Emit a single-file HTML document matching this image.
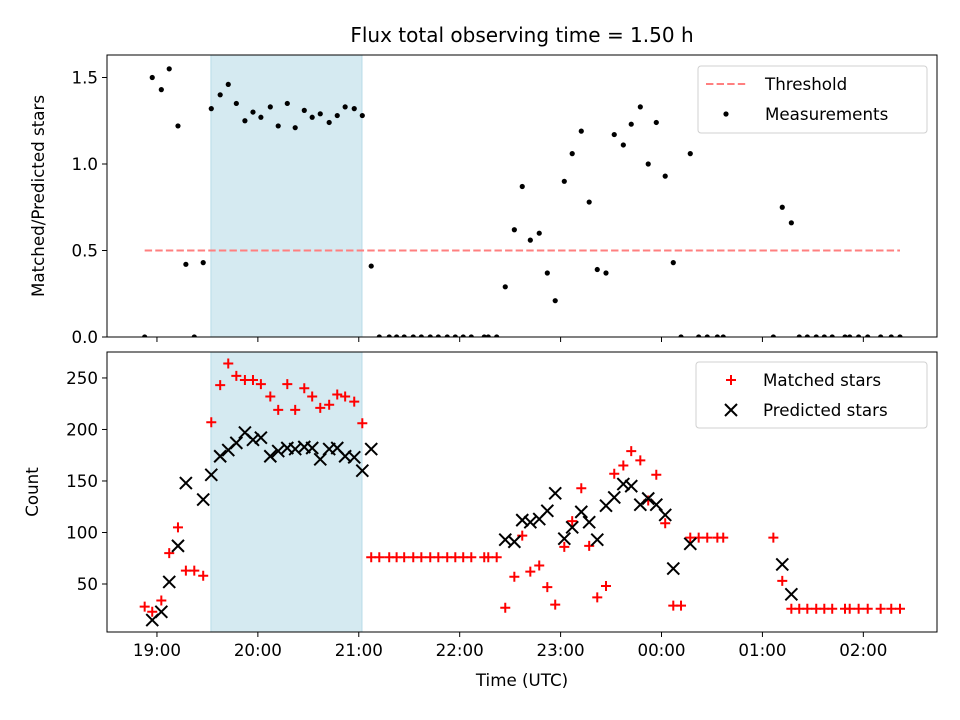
<!DOCTYPE html>
<html><head><meta charset="utf-8"><title>Flux observing time</title>
<style>
html,body{margin:0;padding:0;background:#fff;}
svg{display:block;font-family:"DejaVu Sans","Liberation Sans",sans-serif;}
</style></head>
<body>
<svg id="chart" width="960" height="720" viewBox="0 0 960 720" xmlns="http://www.w3.org/2000/svg">
<rect x="0" y="0" width="960" height="720" fill="#fff"/>
<text x="522" y="42" font-size="20" text-anchor="middle" fill="#000">Flux total observing time = 1.50 h</text>
<g id="top"></g>
<g id="bot"></g>
<text transform="translate(44,196) rotate(-90)" font-size="16.7" text-anchor="middle">Matched/Predicted stars</text>
<text transform="translate(38,492) rotate(-90)" font-size="16.7" text-anchor="middle">Count</text>
<text x="522" y="686" font-size="16.7" text-anchor="middle">Time (UTC)</text>
</svg>
<script>
// minutes relative to 19:00 UTC
const times = [-7.3,-2.8,2.6,7.3,12.5,17.2,22.2,27.5,32.3,37.6,42.4,47.2,52.3,57.1,61.8,67.4,72.1,77.5,82.2,87.6,92.3,97.1,102.4,107.2,111.9,117.3,122.1,127.4,
132.2,138.1,142.5,147.0,152.4,157.2,162.5,167.3,172.6,177.4,182.1,186.9,194.6,197.0,202.0,
207.1,212.5,217.2,222.0,227.3,232.1,236.8,242.2,246.9,252.3,257.0,261.8,267.0,271.9,277.3,282.0,287.4,292.1,296.9,302.2,307.0,311.6,317.1,322.1,327.2,333.2,336.7,
366.5,371.8,377.2,381.9,386.7,392.0,396.8,401.5,409.1,411.9,417.2,422.6,430.3,436.6,441.8];
const ratio = [0,1.50,1.43,1.55,1.22,0.42,0,0.43,1.32,1.40,1.46,1.35,1.25,1.30,1.27,1.33,1.22,1.35,1.21,1.31,1.27,1.29,1.24,1.28,1.33,1.32,1.28,0.41,
0,0,0,0,0,0,0,0,0,0,0,0,0,0,0,
0.29,0.62,0.87,0.56,0.60,0.37,0.21,0.90,1.06,1.19,0.78,0.39,0.37,1.17,1.11,1.23,1.33,1.00,1.24,0.93,0.43,0,1.06,0,0,0,0,
0,0.75,0.66,0,0,0,0,0,0,0,0,0,0,0,0];
const matched = [28,23,34,80,105,63,63,58,207,243,264,252,248,248,244,232,219,244,219,240,232,221,224,234,232,227,206,76,
76,76,76,76,76,76,76,76,76,76,76,76,76,76,76,
27,57,97,62,68,47,30,86,111,143,87,37,48,157,165,179,170,131,156,109,29,29,95,95,95,95,95,
95,53,26,26,26,26,26,26,26,26,26,26,26,26,26,26];
const predicted = [0,15,23,52,87,148,0,132,156,174,180,187,197,190,192,174,179,182,181,183,182,171,181,182,174,173,160,181,
0,0,0,0,0,0,0,0,0,0,0,0,0,0,0,
93,91,112,110,113,121,138,94,105,120,110,93,126,134,147,145,127,133,127,117,65,0,89,0,0,0,0,
0,69,40,0,0,0,0,0,0,0,0,0,0,0,0];
const threshold = 0.5;
const spanStart = 32.1, spanEnd = 121.9;
const xTickLabels = ["19:00","20:00","21:00","22:00","23:00","00:00","01:00","02:00"];
const xTickVals = [0,60,120,180,240,300,360,420];
const ratioTicks = [0,0.5,1.0,1.5];
const countTicks = [50,100,150,200,250];

const NS="http://www.w3.org/2000/svg";
const L=107,R=937;
const xMin=-29.7,xMax=463.8;
const X=t=>L+(t-xMin)/(xMax-xMin)*(R-L);
const T1=55,B1=337,yr=[0,1.63];
const Y1=v=>B1-(v-yr[0])/(yr[1]-yr[0])*(B1-T1);
const T2=352,B2=632,yc=[3.4,275.2];
const Y2=v=>B2-(v-yc[0])/(yc[1]-yc[0])*(B2-T2);
function mk(p,tag,a){const e=document.createElementNS(NS,tag);for(const k in a)e.setAttribute(k,a[k]);p.appendChild(e);return e;}

const svg=document.getElementById('chart');
const defs=mk(svg,'defs',{});
const c1=mk(defs,'clipPath',{id:'c1'});mk(c1,'rect',{x:L,y:T1,width:R-L,height:B1-T1});
const c2=mk(defs,'clipPath',{id:'c2'});mk(c2,'rect',{x:L,y:T2,width:R-L,height:B2-T2});

function panel(g,T,B,clip,Yf,yticks,fmt,showXLabels){
  const sp=mk(g,'rect',{x:X(spanStart),y:T,width:X(spanEnd)-X(spanStart),height:B-T,fill:'#d5eaf1',stroke:'#b7dbe8','stroke-width':1});
  
  
  const data=mk(g,'g',{'clip-path':'url(#'+clip+')'});
  for(let i=0;i<xTickVals.length;i++){
    const x=X(xTickVals[i]);
    const tk=mk(g,'line',{x1:x,x2:x,y1:B,y2:B+5,stroke:'#000','stroke-width':1});
    
    
    if(showXLabels){
      const tl=mk(g,'text',{x:x,y:B+24,'font-size':16.7,'text-anchor':'middle'});
      tl.textContent=xTickLabels[i];
      
      
    }
  }
  for(const v of yticks){
    const y=Yf(v);
    const tk=mk(g,'line',{x1:L-5,x2:L,y1:y,y2:y,stroke:'#000','stroke-width':1});
    
    
    const tl=mk(g,'text',{x:L-9,y:y+6,'font-size':16.7,'text-anchor':'end'});
    tl.textContent=fmt(v);
    
    
  }
  return data;
}
const gt=document.getElementById('top'), gb=document.getElementById('bot');
const d1=panel(gt,T1,B1,'c1',Y1,ratioTicks,v=>v.toFixed(1),false);
const d2=panel(gb,T2,B2,'c2',Y2,countTicks,v=>String(v),true);

const th=mk(d1,'line',{x1:X(times[0]),x2:X(times[times.length-1]),y1:Y1(threshold),y2:Y1(threshold),stroke:'#ff7f7f','stroke-width':2,'stroke-dasharray':'7.4,3.2'});


for(let i=0;i<times.length;i++){
  const c=mk(d1,'circle',{cx:X(times[i]),cy:Y1(ratio[i]),r:2.6,fill:'#000'});
  
  
}
for(let i=0;i<times.length;i++){
  if(matched[i]<yc[0]) continue;
  const x=X(times[i]),y=Y2(matched[i]);
  const p=mk(d2,'path',{d:`M${x-5},${y}H${x+5}M${x},${y-5}V${y+5}`,stroke:'#ff0000','stroke-width':2,fill:'none'});
  
  
}
for(let i=0;i<times.length;i++){
  if(predicted[i]<yc[0]) continue;
  const x=X(times[i]),y=Y2(predicted[i]);
  const p=mk(d2,'path',{d:`M${x-6},${y-6}L${x+6},${y+6}M${x-6},${y+6}L${x+6},${y-6}`,stroke:'#000','stroke-width':2,fill:'none'});
  
  
}
for(const [T,B] of [[T1,B1],[T2,B2]]){
  const f=mk(svg,'rect',{x:L,y:T,width:R-L,height:B-T,fill:'none',stroke:'#000','stroke-width':1});
  
  
}
function legend(x,y,w,h,items){
  const g=mk(svg,'g',{});
  
  
  mk(g,'rect',{x:x,y:y,width:w,height:h,rx:3,fill:'#fff','fill-opacity':0.8,stroke:'#d0d0d0','stroke-width':1});
  items.forEach((it,k)=>{
    const cy=y+18+k*30;
    it.draw(g,x+33,cy);
    const t=mk(g,'text',{x:x+67,y:cy+6,'font-size':16.7});
    t.textContent=it.label;
    
    
  });
}
legend(698,66,229,67,[
  {label:'Threshold',draw:(g,x,y)=>mk(g,'line',{x1:x-25,x2:x+15,y1:y,y2:y,stroke:'#ff7f7f','stroke-width':2,'stroke-dasharray':'7.4,3.2'})},
  {label:'Measurements',draw:(g,x,y)=>mk(g,'circle',{cx:x-5,cy:y,r:2.6,fill:'#000'})}
]);
legend(696,362,231,66,[
  {label:'Matched stars',draw:(g,x,y)=>mk(g,'path',{d:`M${x-3},${y}H${x+7}M${x+2},${y-5}V${y+5}`,stroke:'#f00','stroke-width':2})},
  {label:'Predicted stars',draw:(g,x,y)=>mk(g,'path',{d:`M${x-4},${y-6}L${x+8},${y+6}M${x-4},${y+6}L${x+8},${y-6}`,stroke:'#000','stroke-width':2})}
]);
</script>
</body></html>
